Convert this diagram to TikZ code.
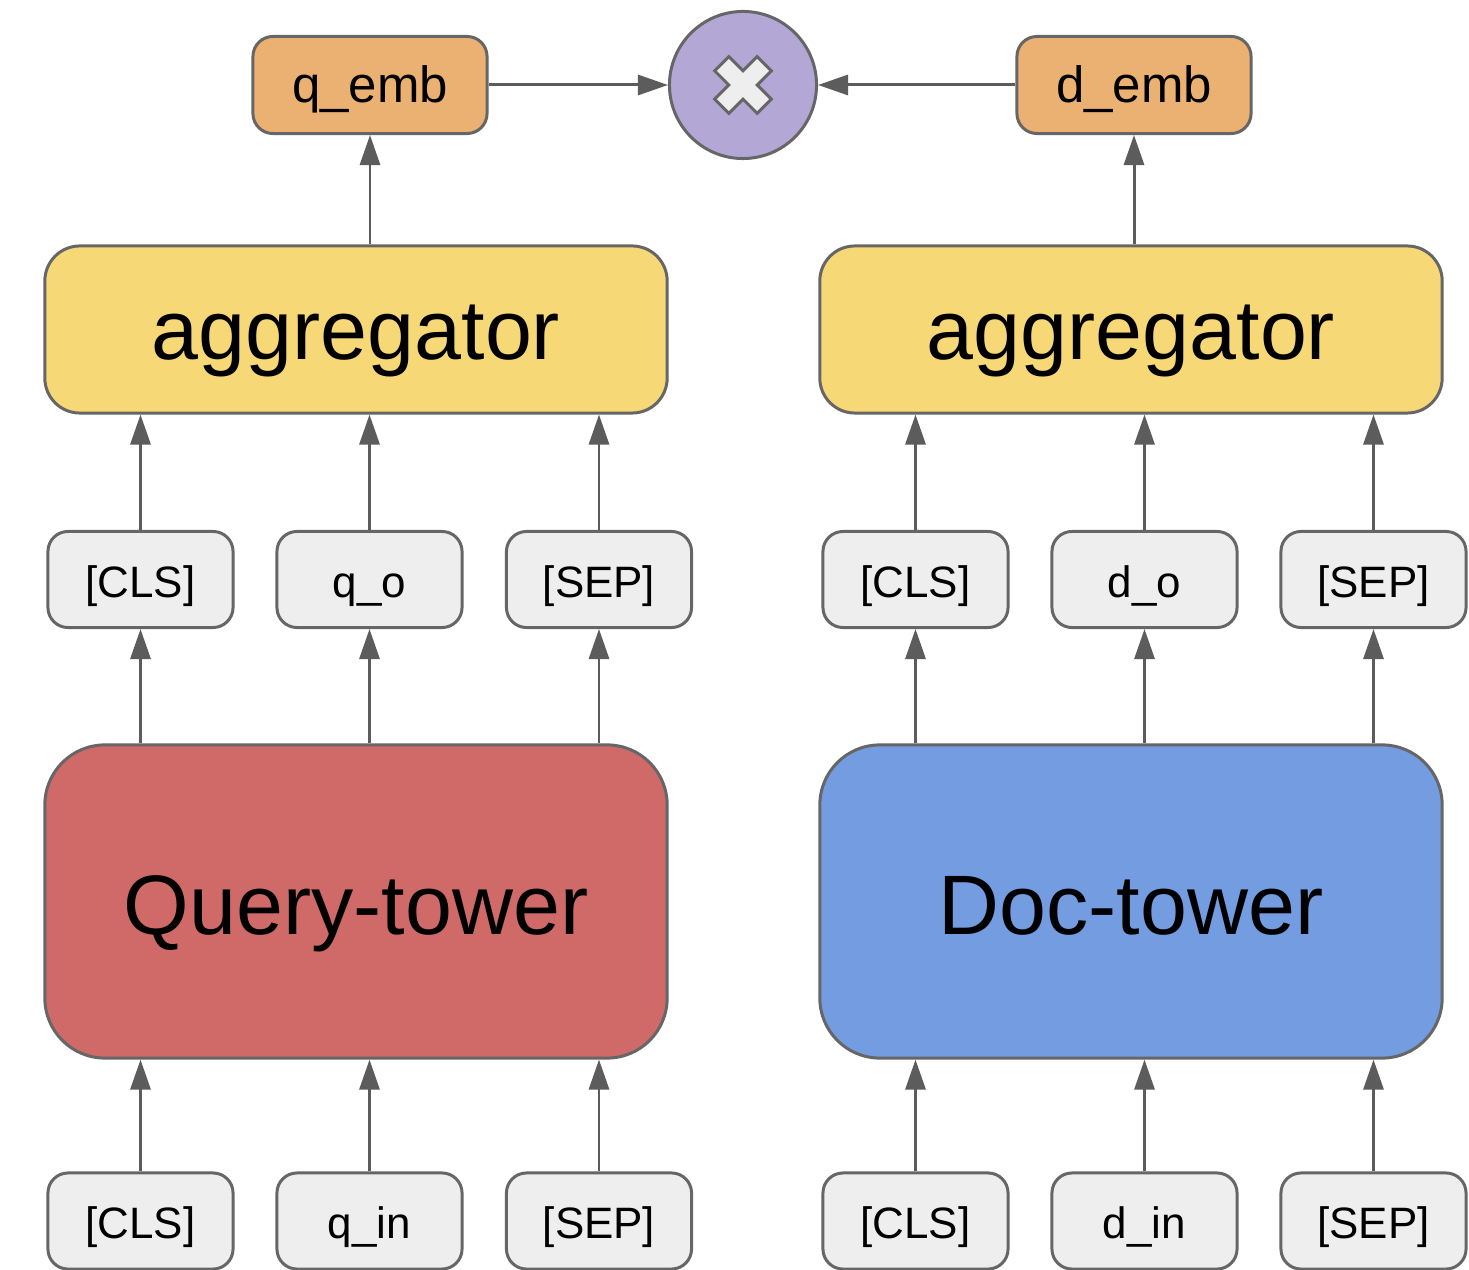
\documentclass[tikz,border=0pt]{standalone}
\usepackage{fontspec}
\setmainfont{Liberation Sans}
\usetikzlibrary{arrows.meta}

\definecolor{embfill}{HTML}{EBB173}
\definecolor{aggfill}{HTML}{F7D876}
\definecolor{qtfill}{HTML}{CF6A69}
\definecolor{dtfill}{HTML}{739CE1}
\definecolor{mulfill}{HTML}{B3A7D5}
\definecolor{tokfill}{HTML}{EEEEEE}
\definecolor{edge}{HTML}{666666}
\definecolor{arrowgray}{HTML}{5C5C5C}

\tikzset{
  box/.style={draw=edge, line width=0.85pt, inner sep=0pt},
  tok/.style={box, fill=tokfill, rounded corners=0.2cm,
    minimum width=1.85cm, minimum height=0.96cm,
    font=\fontsize{12.5}{15}\selectfont, text height=10pt, text depth=0pt},
  emb/.style={box, fill=embfill, rounded corners=0.2cm,
    minimum width=2.34cm, minimum height=0.97cm,
    font=\fontsize{14.5}{17}\selectfont, text height=10pt, text depth=0pt},
  agg/.style={box, fill=aggfill, rounded corners=0.35cm,
    minimum width=6.22cm, minimum height=1.67cm,
    font=\fontsize{24}{28}\selectfont, text height=16.8pt, text depth=0pt},
  tower/.style={box, rounded corners=0.6cm,
    minimum width=6.22cm, minimum height=3.13cm,
    font=\fontsize{24}{28}\selectfont, text height=19pt, text depth=0pt},
  mul/.style={box, circle, fill=mulfill, minimum size=1.47cm},
  arr/.style={draw=arrowgray, line width=0.85pt,
    -{Triangle[length=0.3cm,width=0.2cm]}},
}

\begin{document}
\begin{tikzpicture}[x=0.01cm, y=-0.01cm]
  \useasboundingbox[fill=white] (0,0) rectangle (1469,1270);

  % output embeddings and the product
  \node[emb] (qemb) at (370,85) {q\_emb};
  \node[emb] (demb) at (1134,85) {d\_emb};
  \node[mul] (mult) at (743,85) {};
  \draw[box, fill=tokfill, shift={(mult.center)}, rotate=45]
    (-30,-10) -- (-10,-10) -- (-10,-30) -- (10,-30) -- (10,-10) -- (30,-10)
    -- (30,10) -- (10,10) -- (10,30) -- (-10,30) -- (-10,10) -- (-30,10) -- cycle;

  % aggregators
  \node[agg] (aggL) at (356,329.5) {aggregator};
  \node[agg] (aggR) at (1131,329.5) {aggregator};

  % tower outputs
  \node[tok] (oL1) at (140.5,579.5) {[CLS]};
  \node[tok] (oL2) at (369.5,579.5) {q\_o};
  \node[tok] (oL3) at (599,579.5) {[SEP]};
  \node[tok] (oR1) at (915.5,579.5) {[CLS]};
  \node[tok] (oR2) at (1144.5,579.5) {d\_o};
  \node[tok] (oR3) at (1373.5,579.5) {[SEP]};

  % towers
  \node[tower, fill=qtfill] (qt) at (356,901.5) {Query-tower};
  \node[tower, fill=dtfill] (dt) at (1131,901.5) {Doc-tower};

  % tower inputs
  \node[tok] (iL1) at (140.5,1221) {[CLS]};
  \node[tok] (iL2) at (369.5,1221) {q\_in};
  \node[tok] (iL3) at (599,1221) {[SEP]};
  \node[tok] (iR1) at (915.5,1221) {[CLS]};
  \node[tok] (iR2) at (1144.5,1221) {d\_in};
  \node[tok] (iR3) at (1373.5,1221) {[SEP]};

  % inputs into towers, towers into outputs, outputs into aggregators
  \foreach \i in {1,2,3} {
    \draw[arr] (iL\i.north) -- (iL\i.north |- qt.south);
    \draw[arr] (iR\i.north) -- (iR\i.north |- dt.south);
    \draw[arr] (qt.north -| oL\i) -- (oL\i.south);
    \draw[arr] (dt.north -| oR\i) -- (oR\i.south);
    \draw[arr] (oL\i.north) -- (oL\i.north |- aggL.south);
    \draw[arr] (oR\i.north) -- (oR\i.north |- aggR.south);
  }

  % aggregators into embeddings, embeddings into the product
  \draw[arr] (aggL.north -| qemb) -- (qemb.south);
  \draw[arr] (aggR.north -| demb) -- (demb.south);
  \draw[arr] (qemb.east) -- (mult.west);
  \draw[arr] (demb.west) -- (mult.east);
\end{tikzpicture}
\end{document}
